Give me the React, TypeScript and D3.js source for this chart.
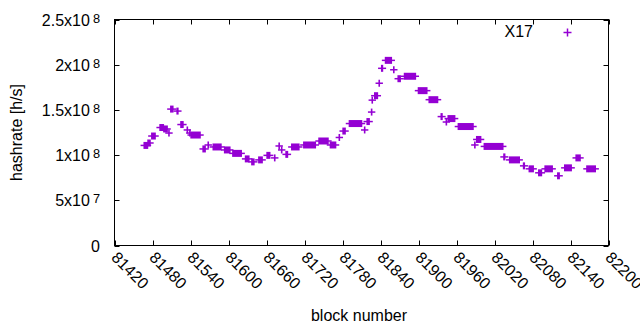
import React from "react"
import * as d3 from "d3"

// runs of blocks that share the same hashrate estimate
const runStart = [
  81467, 81473, 81479, 81492, 81498, 81506, 81509, 81519, 81525, 81535, 81539, 81541,
  81560, 81568, 81576, 81594, 81607, 81627, 81637, 81648, 81661, 81673, 81680, 81684,
  81691, 81700, 81719, 81743, 81761, 81775, 81781, 81791, 81815, 81819, 81826, 81827,
  81831, 81838, 81842, 81848, 81861, 81868, 81878, 81900, 81917, 81936, 81944, 81947,
  81963, 81989, 81992, 82004, 82035, 82044, 82066, 82075, 82090, 82100, 82120, 82131,
  82149, 82166,
]
const runEnd = [
  81472, 81476, 81484, 81497, 81503, 81506, 81512, 81520, 81528, 81535, 81539, 81555,
  81563, 81568, 81588, 81602, 81620, 81632, 81640, 81653, 81665, 81673, 81680, 81684,
  81693, 81711, 81737, 81757, 81769, 81775, 81784, 81810, 81815, 81822, 81826, 81827,
  81835, 81838, 81843, 81857, 81861, 81871, 81895, 81913, 81930, 81937, 81944, 81957,
  81986, 81989, 81998, 82033, 82036, 82059, 82067, 82081, 82094, 82111, 82122, 82141,
  82155, 82179,
]
const hashrate = [
  1.107e8, 1.134e8, 1.211e8, 1.305e8, 1.289e8, 1.244e8, 1.509e8, 1.487e8, 1.338e8, 1.278e8, 1.244e8, 1.222e8,
  1.068e8, 1.112e8, 1.09e8, 1.057e8, 1.019e8, 0.958e8, 0.925e8, 0.947e8, 0.997e8, 0.969e8, 1.101e8, 1.057e8,
  1.008e8, 1.09e8, 1.112e8, 1.156e8, 1.112e8, 1.195e8, 1.266e8, 1.349e8, 1.278e8, 1.371e8, 1.476e8, 1.608e8,
  1.657e8, 1.795e8, 1.96e8, 2.048e8, 1.944e8, 1.845e8, 1.872e8, 1.713e8, 1.613e8, 1.426e8, 1.366e8, 1.404e8,
  1.316e8, 1.112e8, 1.173e8, 1.096e8, 0.98e8, 0.947e8, 0.881e8, 0.848e8, 0.804e8, 0.848e8, 0.771e8, 0.859e8,
  0.969e8, 0.848e8,
]

const xTicks = [81420, 81480, 81540, 81600, 81660, 81720, 81780, 81840, 81900, 81960, 82020, 82080, 82140, 82200]
const yTicks = [0, 5e7, 1e8, 1.5e8, 2e8, 2.5e8]
const yTickMant = ["0", "5x10", "1x10", "1.5x10", "2x10", "2.5x10"]
const yTickExp = ["", "7", "8", "8", "8", "8"]

const seriesName = "X17"
const purple = "#9400d3"
const font = "'Liberation Sans', Arial, sans-serif"

const App = () => {
  const left = 114.5
  const right = 608.5
  const top = 19.5
  const bottom = 245.5

  const x = d3.scaleLinear().domain([81420, 82200]).range([left, right])
  const y = d3.scaleLinear().domain([0, 2.5e8]).range([bottom, top])

  const tick = 5

  return (
    <svg width={640} height={330} style={{ position: "absolute", left: 0, top: 0, background: "#fff" }}
      fontFamily={font}>
      {/* marks */}
      {hashrate.map((v, i) => {
        const x0 = x(runStart[i])
        const x1 = x(runEnd[i])
        const cy = y(v)
        return (
          <g key={i} fill={purple} stroke={purple}>
            <rect x={x0 - 0.8} y={cy - 3.5} width={x1 - x0 + 1.6} height={7} stroke="none" />
            <line x1={x0 - 3.7} x2={x1 + 3.7} y1={cy} y2={cy} strokeWidth={1.5} />
          </g>
        )
      })}

      {/* frame */}
      <rect x={left} y={top} width={right - left} height={bottom - top} fill="none" stroke="#000" strokeWidth={1} />

      {/* y ticks */}
      {yTicks.map((t, i) => {
        const ty = Math.round(y(t)) + 0.5
        return (
          <g key={"y" + i}>
            <line x1={left} x2={left + tick} y1={ty} y2={ty} stroke="#000" />
            <line x1={right} x2={right - tick} y1={ty} y2={ty} stroke="#000" />
            <text x={100} y={ty + 5.5} textAnchor="end" fontSize={16} fill="#000">
              {yTickMant[i]}
              {yTickExp[i] && (
                <tspan dx={3} dy={-3.5} fontSize={12.8}>{yTickExp[i]}</tspan>
              )}
            </text>
          </g>
        )
      })}

      {/* x ticks */}
      {xTicks.map((t, i) => {
        const tx = Math.round(x(t)) + 0.5
        return (
          <g key={"x" + i}>
            <line x1={tx} x2={tx} y1={bottom} y2={bottom - tick} stroke="#000" />
            <line x1={tx} x2={tx} y1={top} y2={top + tick} stroke="#000" />
            <text transform={`translate(${tx - 1},${bottom + 9}) rotate(45)`} fontSize={16} fill="#000" dy="0.35em">
              {t}
            </text>
          </g>
        )
      })}

      {/* axis labels */}
      <text x={359} y={321} textAnchor="middle" fontSize={16} fill="#000">block number</text>
      <text transform="translate(22,132.5) rotate(-90)" textAnchor="middle" fontSize={16} fill="#000">
        hashrate [h/s]
      </text>

      {/* legend */}
      <text x={533} y={37} textAnchor="end" fontSize={16} fill="#000">{seriesName}</text>
      <g stroke={purple} strokeWidth={1.5}>
        <line x1={563.5} x2={571.5} y1={32.5} y2={32.5} />
        <line x1={567.5} x2={567.5} y1={28.5} y2={36.5} />
      </g>
    </svg>
  )
}

export default App
